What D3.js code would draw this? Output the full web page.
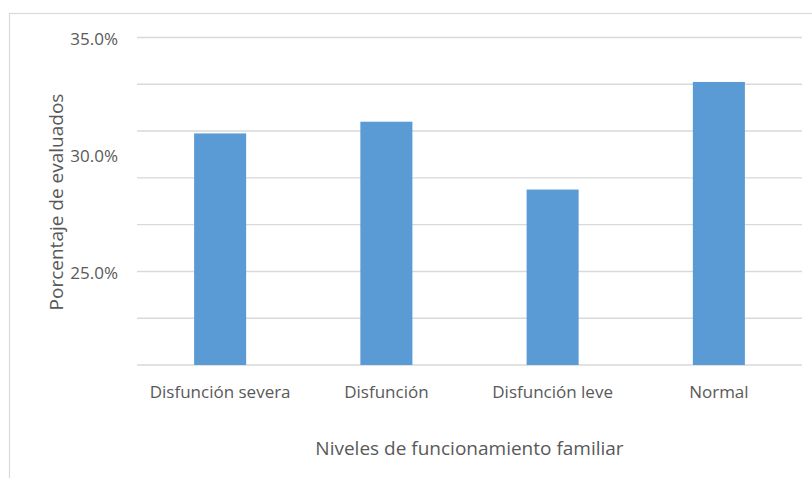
<!DOCTYPE html>
<html>
<head>
<meta charset="utf-8">
<script src="https://cdn.jsdelivr.net/npm/d3@7"></script>
<style>
  body { margin: 0; background: #fff; }
  text { font-family: "Open Sans", "Noto Sans", sans-serif; fill: #595959; }
</style>
</head>
<body>
<div id="chart"></div>
<script>
var categories = ["Disfunción severa", "Disfunción", "Disfunción leve", "Normal"];
var values = [30.9, 31.4, 28.5, 33.1]; // percent
var tickLabels = [25, 30, 35];
var gridValues = [21, 23, 25, 27, 29, 31, 33, 35];

var width = 812,
    height = 478;

var margin = {top: 37.5, right: 10, bottom: 113, left: 137};

var svg = d3.select("#chart").append("svg")
  .attr("width", width)
  .attr("height", height);

// light frame around the chart area
svg.append("rect")
  .attr("x", 9.5).attr("y", 13.5)
  .attr("width", 820).attr("height", 480)
  .attr("fill", "none")
  .attr("stroke", "#d9d9d9")
  .attr("stroke-width", 1.2);

var xScale = d3.scaleBand()
  .domain(categories)
  .range([margin.left, 802])
  .paddingInner(0.687)
  .paddingOuter(0.3435);

var yScale = d3.scaleLinear()
  .domain([21, 35])
  .range([365, margin.top]);

// gridlines
svg.append("g")
  .selectAll("line").data(gridValues)
  .enter().append("line")
    .attr("x1", margin.left)
    .attr("x2", 802)
    .attr("y1", function(d){ return yScale(d); })
    .attr("y2", function(d){ return yScale(d); })
    .attr("stroke", "#d9d9d9")
    .attr("stroke-width", 1.4);

// y axis labels
var yAxis = d3.axisLeft(yScale)
  .tickValues(tickLabels)
  .tickSize(0)
  .tickPadding(0)
  .tickFormat(function(d){ return d3.format(".1f")(d) + "%"; });

var yg = svg.append("g")
  .attr("transform", "translate(118,2)")
  .call(yAxis);
yg.select(".domain").remove();
yg.selectAll("text")
  .style("font-size", "17px")
  .attr("fill", "#595959");

// bars
svg.append("g")
  .selectAll("rect").data(values)
  .enter().append("rect")
    .attr("fill", "#5b9bd5")
    .attr("x", function(d, i){ return xScale(categories[i]); })
    .attr("width", xScale.bandwidth())
    .attr("y", function(d){ return yScale(d); })
    .attr("height", function(d){ return 365 - yScale(d); });

// x axis labels
var xAxis = d3.axisBottom(xScale).tickSize(0).tickPadding(0);
var xg = svg.append("g")
  .attr("transform", "translate(0,386)")
  .call(xAxis);
xg.select(".domain").remove();
xg.selectAll("text")
  .style("font-size", "17px")
  .attr("fill", "#595959");

// axis titles
svg.append("text")
  .attr("x", (margin.left + 802) / 2)
  .attr("y", 455)
  .attr("text-anchor", "middle")
  .style("font-size", "19px")
  .text("Niveles de funcionamiento familiar");

svg.append("text")
  .attr("transform", "translate(63,202) rotate(-90)")
  .attr("text-anchor", "middle")
  .style("font-size", "19px")
  .text("Porcentaje de evaluados");
</script>
</body>
</html>
